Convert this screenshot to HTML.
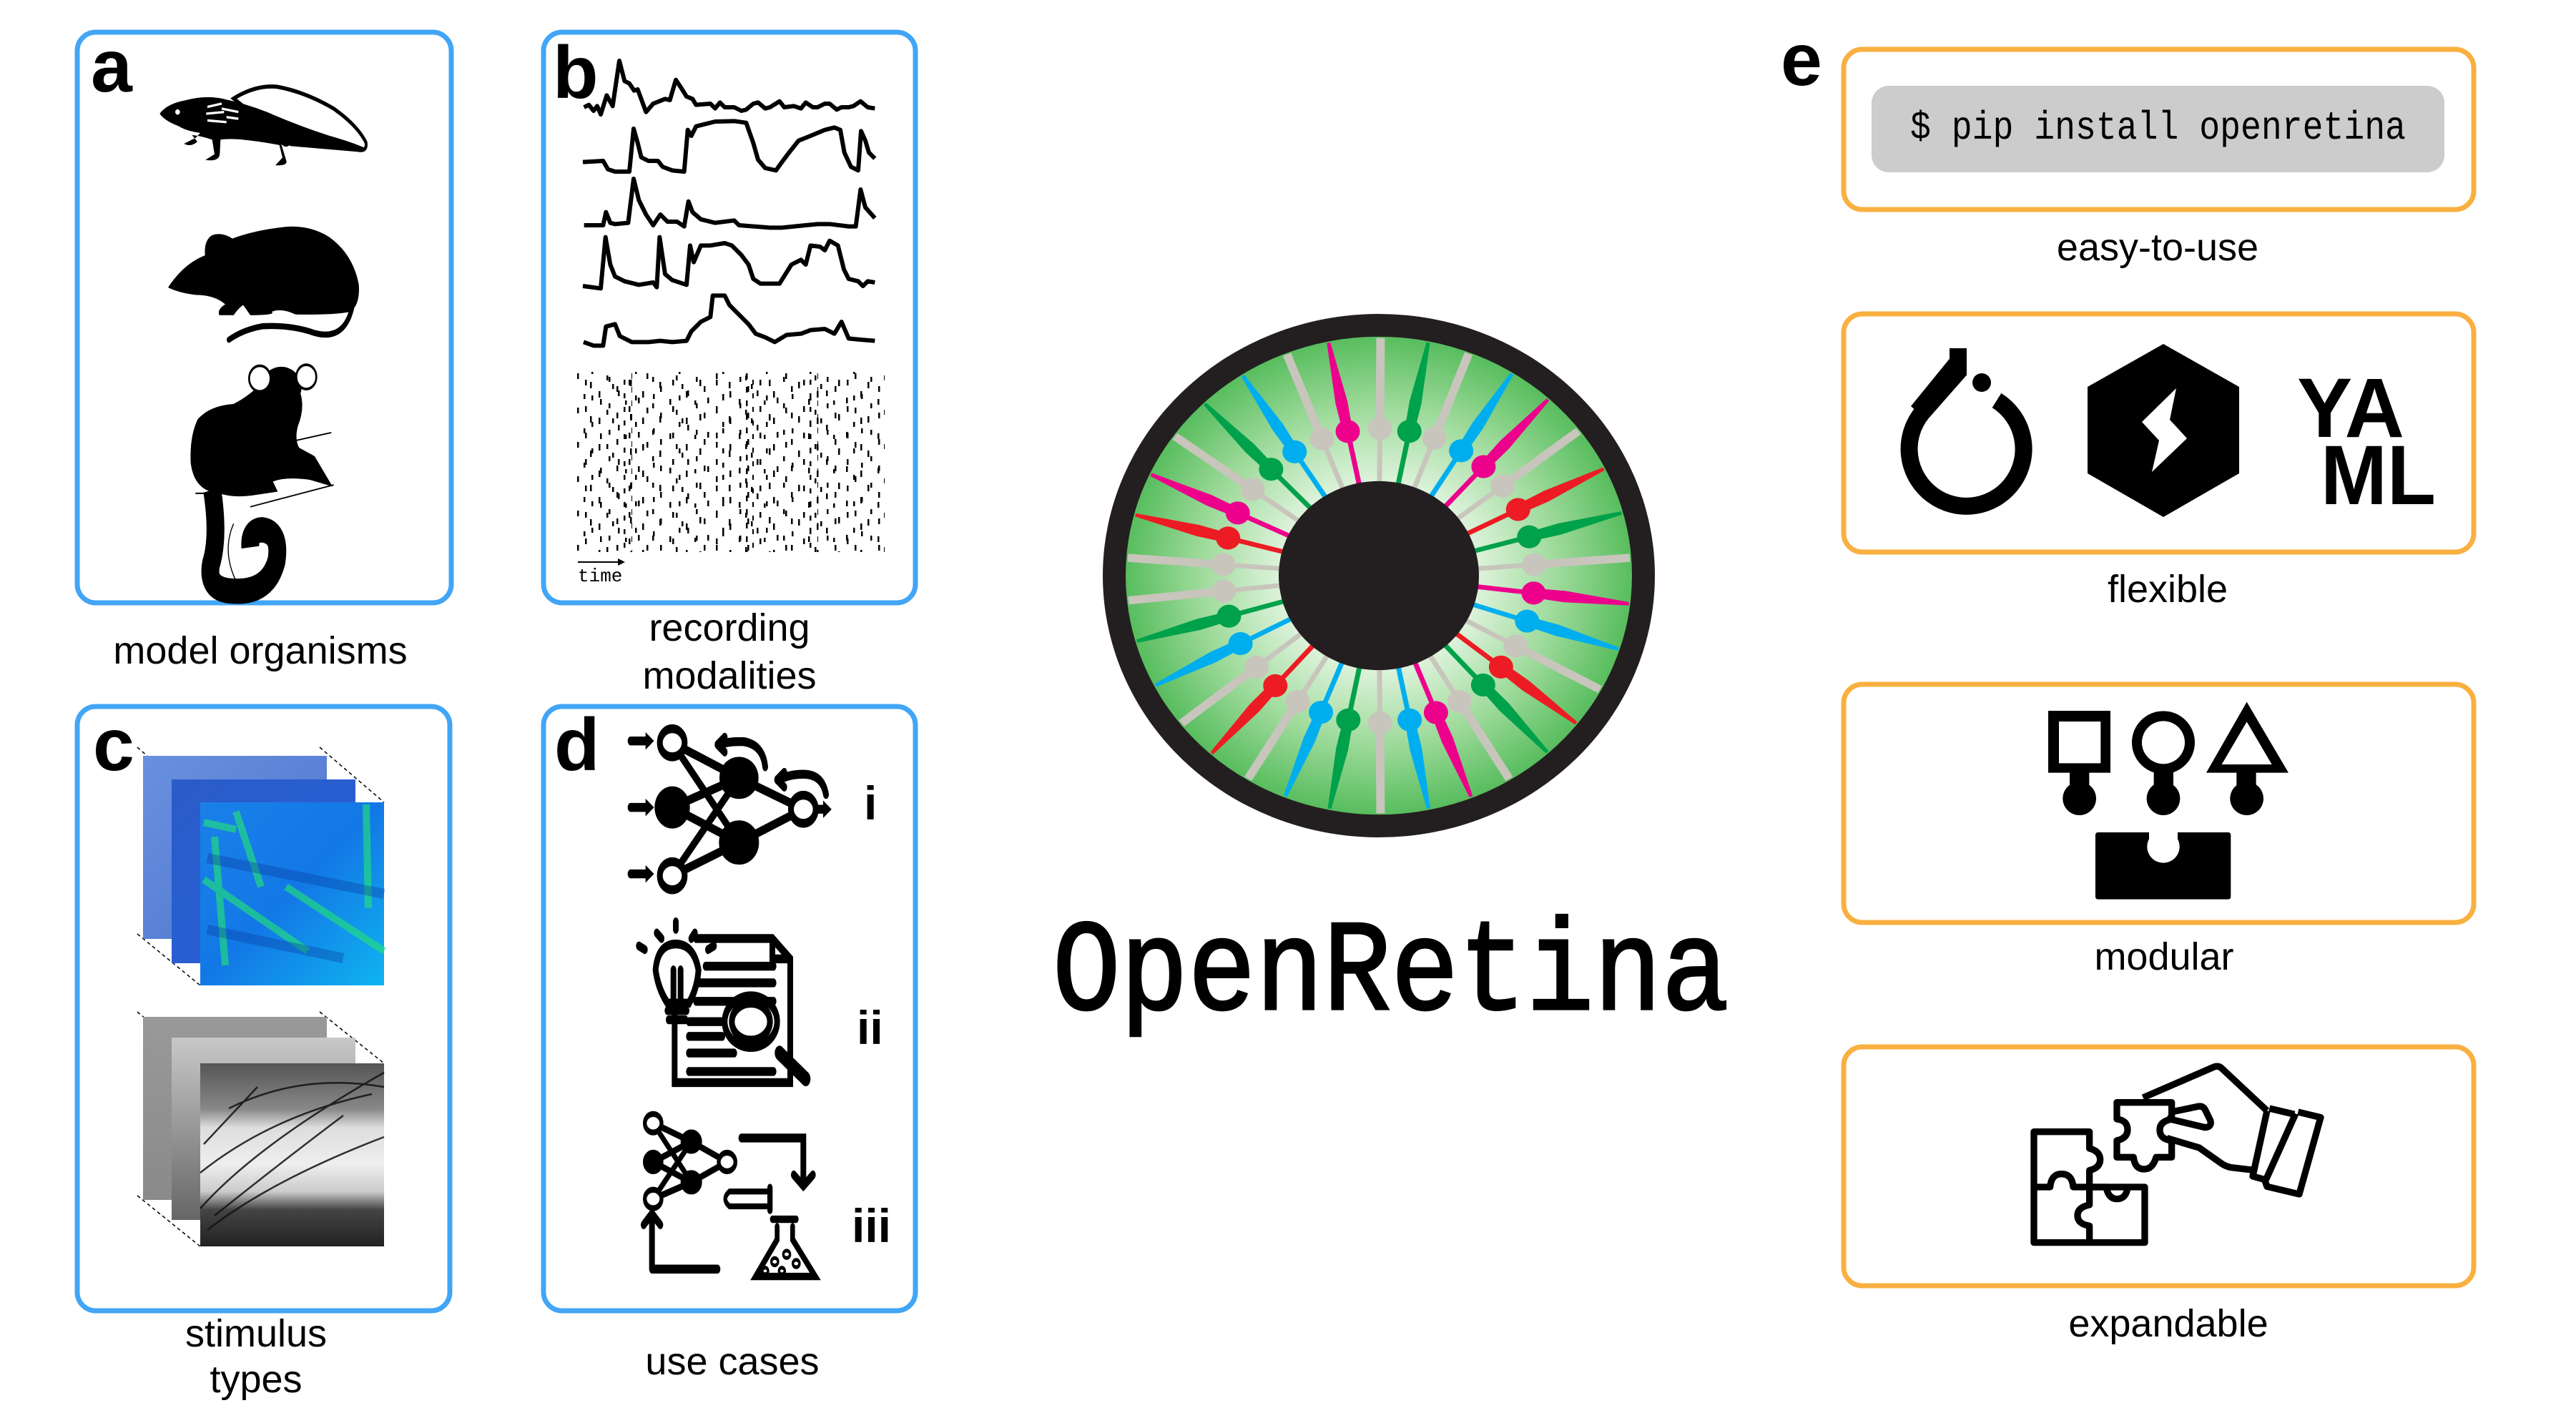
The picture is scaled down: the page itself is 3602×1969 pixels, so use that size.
<!DOCTYPE html>
<html><head><meta charset="utf-8">
<style>
html,body{margin:0;padding:0;background:#fff;}
svg{display:block;}
text{font-family:"Liberation Sans",sans-serif;}
.lbl{font-size:54px;fill:#000;text-anchor:middle;}
.big{font-weight:bold;font-size:104px;fill:#000;}
.mono{font-family:"Liberation Mono",monospace;}
</style></head>
<body>
<svg width="3602" height="1969" viewBox="0 0 3602 1969" xmlns="http://www.w3.org/2000/svg" xmlns:xlink="http://www.w3.org/1999/xlink">
<defs>
<radialGradient id="gg" cx="0" cy="0" r="354" gradientUnits="userSpaceOnUse">
<stop offset="0.35" stop-color="#e6f6e4"/><stop offset="0.7" stop-color="#9fdb9c"/><stop offset="1" stop-color="#58bd5e"/></radialGradient>
<linearGradient id="b1" x1="0" y1="0" x2="1" y2="1"><stop offset="0" stop-color="#6a90e0"/><stop offset="0.5" stop-color="#5a82d6"/><stop offset="1" stop-color="#4a78d8"/></linearGradient>
<linearGradient id="b2" x1="0" y1="0" x2="1" y2="1"><stop offset="0" stop-color="#2a5cc8"/><stop offset="1" stop-color="#2660d8"/></linearGradient>
<linearGradient id="b3" x1="0" y1="0" x2="1" y2="1"><stop offset="0" stop-color="#1a80e8"/><stop offset="0.5" stop-color="#1278e6"/><stop offset="1" stop-color="#10b4f0"/></linearGradient>
<linearGradient id="g1" x1="0" y1="0" x2="0" y2="1"><stop offset="0" stop-color="#999"/><stop offset="1" stop-color="#8a8a8a"/></linearGradient>
<linearGradient id="g2" x1="0" y1="0" x2="0" y2="1"><stop offset="0" stop-color="#c8c8c8"/><stop offset="1" stop-color="#666"/></linearGradient>
<linearGradient id="g3" x1="0" y1="0" x2="0" y2="1"><stop offset="0" stop-color="#555"/><stop offset="0.25" stop-color="#888"/><stop offset="0.35" stop-color="#ddd"/><stop offset="0.55" stop-color="#eee"/><stop offset="0.7" stop-color="#ccc"/><stop offset="0.8" stop-color="#444"/><stop offset="1" stop-color="#222"/></linearGradient>
<g id="rt">
<rect x="-3.5" y="-218" width="7" height="92"/>
<rect x="-7" y="-140" width="14" height="14"/>
<circle cx="0" cy="-218" r="17"/>
<polygon points="-7,-218 -8.5,-262 -2.5,-352 2.5,-352 8.5,-262 7,-218"/>
</g>
<g id="rs">
<rect x="-3.5" y="-218" width="7" height="92"/>
<rect x="-7" y="-140" width="14" height="14"/>
<circle cx="0" cy="-218" r="17"/>
<polygon points="-6,-218 -6,-352 6,-352 6,-218"/>
</g>
<pattern id="p1" x="804" y="520" width="97" height="48" patternUnits="userSpaceOnUse">
<g fill="#000"><rect x="3" y="2" width="2.5" height="8"/><rect x="21" y="14" width="2.5" height="9"/><rect x="44" y="5" width="2.5" height="7"/><rect x="60" y="26" width="2.5" height="8"/><rect x="77" y="11" width="2.5" height="9"/><rect x="88" y="36" width="2.5" height="8"/><rect x="12" y="31" width="2.5" height="7"/><rect x="35" y="38" width="2.5" height="8"/><rect x="52" y="17" width="2.5" height="7"/><rect x="70" y="40" width="2.5" height="6"/></g>
</pattern>
<pattern id="p2" x="810" y="525" width="61" height="37" patternUnits="userSpaceOnUse">
<g fill="#000"><rect x="8" y="6" width="2.5" height="8"/><rect x="27" y="22" width="2.5" height="9"/><rect x="41" y="2" width="2.5" height="7"/><rect x="52" y="15" width="2.5" height="8"/><rect x="17" y="28" width="2.5" height="7"/></g>
</pattern>
<pattern id="p3" x="0" y="520" width="20" height="19" patternUnits="userSpaceOnUse">
<g fill="#000"><rect x="3" y="2" width="2.5" height="8"/><rect x="12" y="11" width="2.5" height="7"/></g>
</pattern>
</defs>

<!-- panel boxes -->
<g fill="none" stroke="#42a5f5" stroke-width="7">
<rect x="108" y="45" width="523" height="798" rx="26"/>
<rect x="760" y="45" width="520" height="798" rx="26"/>
<rect x="108" y="988" width="521" height="845" rx="26"/>
<rect x="760" y="988" width="520" height="845" rx="26"/>
</g>
<g fill="none" stroke="#f9b040" stroke-width="7">
<rect x="2578" y="69" width="881" height="224" rx="26"/>
<rect x="2578" y="439" width="881" height="333" rx="26"/>
<rect x="2578" y="957" width="881" height="333" rx="26"/>
<rect x="2578" y="1464" width="881" height="334" rx="26"/>
</g>

<!-- letters -->
<text class="big" x="127" y="128">a</text>
<text class="big" x="773" y="137">b</text>
<text class="big" x="130" y="1077">c</text>
<text class="big" x="775" y="1077">d</text>
<text class="big" x="2490" y="119">e</text>

<!-- labels -->
<text class="lbl" x="364" y="928">model organisms</text>
<text class="lbl" x="1020" y="896">recording</text>
<text class="lbl" x="1020" y="963">modalities</text>
<text class="lbl" x="358" y="1883">stimulus</text>
<text class="lbl" x="358" y="1947">types</text>
<text class="lbl" x="1024" y="1922">use cases</text>
<text class="lbl" x="3017" y="364">easy-to-use</text>
<text class="lbl" x="3031" y="842">flexible</text>
<text class="lbl" x="3026" y="1356">modular</text>
<text class="lbl" x="3032" y="1869">expandable</text>

<!-- animals -->
<g transform="translate(200,100) scale(0.3333,0.4719)">
<path d="M380,80 Q470,40 560,45 Q680,60 800,110 Q900,160 935,210 Q942,238 900,232 L620,215 Z" fill="#fff" stroke="#000" stroke-width="12"/>
<path d="M70,125 Q100,95 180,85 Q260,70 330,80 Q430,95 520,120 Q650,160 780,190 Q880,210 935,228 Q850,235 620,215 Q600,230 580,215 L600,262 Q612,280 555,278 L585,255 L572,218 Q500,208 420,202 Q360,198 325,202 L322,245 Q318,268 262,262 L300,245 L290,202 Q250,192 205,188 L228,208 Q200,225 172,214 L222,196 L240,182 Q180,176 150,162 Q90,146 70,125Z" fill="#000"/>
<ellipse cx="145" cy="120" rx="10" ry="8" fill="#fff"/>
<path d="M270,105 L330,95 M265,125 L340,120 M270,145 L350,150 M330,110 L400,120 M350,135 L400,140" stroke="#fff" stroke-width="7" fill="none"/>
<path d="M105,640 Q170,570 260,545 Q255,500 290,485 Q330,475 375,495 Q470,470 600,460 Q700,455 780,490 Q880,540 905,630 Q912,690 870,712 Q800,722 640,720 Q580,700 540,712 Q560,722 450,722 L420,692 Q400,702 380,722 L320,722 Q310,705 345,690 Q300,662 220,662 Q150,656 105,640Z" fill="#000"/>
<path d="M360,795 Q420,765 500,755 Q620,750 720,775 Q850,800 880,690" stroke="#000" stroke-width="18" fill="none" stroke-linecap="round"/>
<path d="M600,1100 L790,1070 M450,1290 L800,1225 M380,1340 Q330,1420 390,1510 M220,1250 L260,1250" stroke="#000" stroke-width="4" fill="none"/>
<path d="M230,1030 Q280,990 380,985 Q450,960 500,920 Q560,880 640,920 Q690,980 650,1050 Q635,1090 655,1115 L720,1140 L795,1230 L700,1210 Q600,1200 545,1215 L565,1245 L470,1255 Q380,1265 320,1250 Q215,1245 200,1160 Q195,1080 230,1030Z" fill="#000"/>
<ellipse cx="580" cy="935" rx="85" ry="60" fill="#000"/>
<ellipse cx="490" cy="910" rx="45" ry="38" fill="#fff" stroke="#000" stroke-width="8"/>
<ellipse cx="685" cy="905" rx="42" ry="36" fill="#fff" stroke="#000" stroke-width="8"/>
<path d="M290,1240 Q320,1380 285,1460 Q265,1540 385,1540 Q525,1545 560,1450 Q578,1365 500,1358 Q445,1360 450,1410" stroke="#000" stroke-width="75" fill="none"/>
</g>

<!-- traces -->
<g transform="translate(760,50) scale(0.33333)" fill="none" stroke="#000" stroke-width="18" stroke-linejoin="round">
<polyline points="170,300 190,290 210,315 225,295 240,330 265,250 290,295 318,105 340,190 360,200 380,230 395,225 430,320 460,285 510,265 530,270 555,185 575,215 600,255 625,265 640,290 700,285 720,305 740,280 760,300 800,300 830,315 850,310 880,285 900,280 930,305 950,300 990,275 1010,300 1050,295 1080,305 1100,280 1130,300 1150,300 1180,285 1200,285 1230,310 1250,300 1280,300 1300,295 1330,275 1360,300 1390,305"/>
<polyline points="165,530 250,525 270,560 300,570 360,570 378,390 395,450 410,510 440,525 480,525 500,550 540,565 590,570 605,395 620,420 640,380 680,370 720,360 800,358 850,365 880,450 900,520 930,555 975,565 1000,530 1030,490 1070,440 1120,420 1180,395 1220,385 1245,395 1262,490 1290,550 1320,565 1332,400 1350,440 1365,490 1390,515"/>
<polyline points="170,795 250,795 262,740 280,785 300,790 355,785 378,600 400,690 430,750 460,795 490,750 520,780 560,780 590,800 608,695 625,740 660,770 720,785 800,775 820,795 950,805 1000,805 1100,795 1150,790 1200,790 1280,800 1310,800 1330,645 1350,720 1390,765"/>
<polyline points="165,1050 240,1060 260,845 280,960 300,1010 340,1030 400,1045 460,1035 475,1055 487,845 510,1000 540,1025 600,1045 615,880 630,950 660,880 700,880 760,870 790,880 830,920 860,960 880,1020 910,1040 950,1040 990,1040 1040,960 1080,940 1100,960 1120,880 1160,885 1180,900 1200,860 1235,880 1260,980 1280,1020 1320,1030 1340,1050 1360,1030 1390,1035"/>
<polyline points="168,1285 210,1300 250,1300 262,1220 300,1210 320,1260 340,1270 370,1285 440,1285 490,1280 540,1285 600,1280 620,1240 660,1200 700,1180 710,1090 760,1090 780,1130 820,1170 860,1210 890,1250 930,1265 970,1285 1020,1255 1080,1250 1120,1235 1180,1230 1220,1250 1250,1200 1280,1270 1330,1275 1390,1280"/>
</g>
<rect x="804" y="520" width="433" height="252" fill="url(#p1)"/>
<rect x="804" y="520" width="433" height="252" fill="url(#p2)"/>
<rect x="870" y="520" width="14" height="252" fill="url(#p3)"/>
<rect x="1040" y="520" width="14" height="252" fill="url(#p3)"/>
<rect x="1130" y="520" width="14" height="252" fill="url(#p3)"/>
<line x1="808" y1="786" x2="868" y2="786" stroke="#000" stroke-width="2"/>
<path d="M864,781 L874,786 L864,791Z" fill="#000"/>
<text class="mono" x="808" y="813" font-size="26">time</text>

<!-- stimulus stacks -->
<g stroke="#000" stroke-width="1.5" stroke-dasharray="5,4">
<line x1="192" y1="1045" x2="280" y2="1122"/><line x1="447" y1="1045" x2="537" y2="1122"/>
<line x1="192" y1="1306" x2="280" y2="1378"/>
<line x1="192" y1="1415" x2="280" y2="1487"/><line x1="447" y1="1415" x2="537" y2="1487"/>
<line x1="192" y1="1672" x2="280" y2="1743"/>
</g>
<rect x="200" y="1057" width="257" height="256" fill="url(#b1)"/>
<rect x="240" y="1090" width="257" height="257" fill="url(#b2)"/>
<rect x="280" y="1122" width="257" height="256" fill="url(#b3)"/>
<g stroke="#22e07a" stroke-width="10" opacity="0.65" fill="none">
<path d="M285,1230 L430,1330"/><path d="M400,1240 L537,1330"/><path d="M300,1170 L315,1350"/><path d="M512,1125 L515,1270"/><path d="M330,1135 L365,1240"/><path d="M285,1150 L330,1160"/>
</g>
<g stroke="#0a3a9a" stroke-width="14" opacity="0.35" fill="none"><path d="M290,1200 L537,1250"/><path d="M290,1300 L480,1340"/></g>
<rect x="200" y="1422" width="257" height="256" fill="url(#g1)"/>
<rect x="240" y="1451" width="257" height="255" fill="url(#g2)"/>
<rect x="280" y="1487" width="257" height="256" fill="url(#g3)"/>
<g stroke="#111" stroke-width="2.5" fill="none" opacity="0.85">
<path d="M280,1690 Q360,1600 537,1500"/><path d="M280,1640 Q380,1560 520,1530"/><path d="M300,1700 Q400,1620 480,1560"/><path d="M285,1600 L360,1520"/><path d="M290,1720 Q380,1650 537,1590"/><path d="M320,1550 Q420,1500 537,1520"/>
</g>

<!-- use case icons -->
<g transform="translate(860,1000) scale(0.3333,0.5165)" stroke="#000" stroke-width="24" fill="none" stroke-linecap="round">
<path d="M240,75 L520,170 M240,75 L520,345 M240,250 L520,170 M240,250 L520,345 M240,435 L520,170 M240,435 L520,345 M520,170 L790,255 M520,345 L790,255"/>
<ellipse cx="240" cy="75" rx="52" ry="38" fill="#fff"/>
<ellipse cx="240" cy="250" rx="62" ry="45" fill="#000"/>
<ellipse cx="520" cy="170" rx="70" ry="45" fill="#000"/>
<ellipse cx="520" cy="345" rx="72" ry="48" fill="#000"/>
<ellipse cx="790" cy="255" rx="52" ry="38" fill="#fff"/>
<ellipse cx="240" cy="435" rx="52" ry="38" fill="#fff"/>
<path d="M65,70 L130,70 M65,250 L130,250 M65,430 L130,430 M845,255 L880,255"/>
<path d="M130,50 L160,70 L130,90Z M130,230 L160,250 L130,270Z M130,410 L160,430 L130,450Z M875,235 L905,255 L875,275Z" fill="#000" stroke-width="4"/>
<path d="M630,140 Q620,80 540,72 Q480,70 440,80"/><path d="M430,80 L460,60 M430,80 L460,100" />
<path d="M885,215 Q870,160 790,160 Q730,160 690,175"/><path d="M680,175 L710,155 M680,175 L710,195"/>
<path d="M250,630 L250,995 L735,995 L735,660 L660,605 L340,605 M660,605 L660,660 L735,660"/>
<path d="M380,680 L665,680 M310,725 L665,725 M340,775 L665,775 M310,830 L450,830 M310,870 L450,870 M310,915 L500,915 M310,965 L665,965"/>
<ellipse cx="570" cy="830" rx="110" ry="70" fill="#fff"/>
<ellipse cx="570" cy="830" rx="80" ry="50"/>
<path d="M690,915 L800,985" stroke-width="40"/>
<path d="M255,620 Q330,620 350,690 Q345,740 310,780 L220,780 Q180,740 170,690 Q180,620 255,620Z" fill="#fff"/>
<path d="M220,800 L300,800 M225,825 L295,825 M245,690 L245,780 M275,690 L275,780"/>
<path d="M255,560 L255,580 M175,590 L195,605 M335,590 L320,605 M100,625 L125,635 M415,625 L390,635"/>
<path d="M160,1105 L320,1155 M160,1105 L320,1265 M160,1210 L320,1155 M160,1210 L320,1265 M160,1310 L320,1155 M160,1310 L320,1265 M320,1155 L470,1210 M320,1265 L470,1210" stroke-width="18"/>
<ellipse cx="160" cy="1105" rx="35" ry="25" fill="#fff" stroke-width="16"/>
<ellipse cx="160" cy="1210" rx="38" ry="28" fill="#000" stroke-width="10"/>
<ellipse cx="320" cy="1155" rx="40" ry="28" fill="#000" stroke-width="10"/>
<ellipse cx="320" cy="1265" rx="40" ry="28" fill="#000" stroke-width="10"/>
<ellipse cx="470" cy="1210" rx="35" ry="25" fill="#fff" stroke-width="16"/>
<ellipse cx="160" cy="1310" rx="35" ry="25" fill="#fff" stroke-width="16"/>
<path d="M530,1145 L790,1145 L790,1270 M750,1245 L790,1275 L830,1245"/>
<path d="M155,1500 L430,1500 M155,1500 L155,1350 M120,1380 L155,1350 L190,1380"/>
<path d="M640,1290 L480,1290 Q445,1310 480,1330 L640,1330" stroke-width="16"/>
<path d="M650,1280 L650,1340" stroke-width="22"/>
<path d="M660,1365 L760,1365 M680,1385 L680,1420 L590,1520 L840,1520 L745,1420 L745,1385" stroke-width="20"/>
<ellipse cx="670" cy="1480" rx="14" ry="10" stroke-width="10"/><ellipse cx="720" cy="1460" rx="14" ry="10" stroke-width="10"/><ellipse cx="760" cy="1485" rx="14" ry="10" stroke-width="10"/><ellipse cx="630" cy="1505" rx="12" ry="9" stroke-width="10"/><ellipse cx="700" cy="1505" rx="12" ry="9" stroke-width="10"/>
</g>
<g font-weight="bold" font-size="66" fill="#000"><text x="1208" y="1146">i</text><text x="1198" y="1460">ii</text><text x="1191" y="1737">iii</text></g>

<!-- eye -->
<ellipse cx="1928" cy="805" rx="386" ry="366" fill="#231f20"/>
<g transform="translate(1928,805) scale(1,0.944)">
<circle cx="0" cy="0" r="354" fill="url(#gg)"/>
<use xlink:href="#rs" fill="#c8c5bc" transform="rotate(0.4)"/>
<use xlink:href="#rt" fill="#00a14b" transform="rotate(11.3)"/>
<use xlink:href="#rs" fill="#c8c5bc" transform="rotate(20.9)"/>
<use xlink:href="#rt" fill="#00aeef" transform="rotate(31.9)"/>
<use xlink:href="#rt" fill="#ec008c" transform="rotate(42.2)"/>
<use xlink:href="#rs" fill="#c8c5bc" transform="rotate(52.5)"/>
<use xlink:href="#rt" fill="#ed1c24" transform="rotate(63.3)"/>
<use xlink:href="#rt" fill="#00a14b" transform="rotate(74.7)"/>
<use xlink:href="#rs" fill="#c8c5bc" transform="rotate(85.7)"/>
<use xlink:href="#rt" fill="#ec008c" transform="rotate(96.8)"/>
<use xlink:href="#rt" fill="#00aeef" transform="rotate(108)"/>
<use xlink:href="#rs" fill="#c8c5bc" transform="rotate(118.6)"/>
<use xlink:href="#rt" fill="#ed1c24" transform="rotate(128.4)"/>
<use xlink:href="#rt" fill="#00a14b" transform="rotate(138)"/>
<use xlink:href="#rs" fill="#c8c5bc" transform="rotate(148.8)"/>
<use xlink:href="#rt" fill="#ec008c" transform="rotate(158.5)"/>
<use xlink:href="#rt" fill="#00aeef" transform="rotate(168.6)"/>
<use xlink:href="#rs" fill="#c8c5bc" transform="rotate(179.6)"/>
<use xlink:href="#rt" fill="#00a14b" transform="rotate(191.3)"/>
<use xlink:href="#rt" fill="#00aeef" transform="rotate(201.8)"/>
<use xlink:href="#rs" fill="#c8c5bc" transform="rotate(211.3)"/>
<use xlink:href="#rt" fill="#ed1c24" transform="rotate(221.6)"/>
<use xlink:href="#rs" fill="#c8c5bc" transform="rotate(231.6)"/>
<use xlink:href="#rt" fill="#00aeef" transform="rotate(242.5)"/>
<use xlink:href="#rt" fill="#00a14b" transform="rotate(254)"/>
<use xlink:href="#rs" fill="#c8c5bc" transform="rotate(264)"/>
<use xlink:href="#rs" fill="#c8c5bc" transform="rotate(274.3)"/>
<use xlink:href="#rt" fill="#ed1c24" transform="rotate(284.8)"/>
<use xlink:href="#rt" fill="#ec008c" transform="rotate(295.2)"/>
<use xlink:href="#rs" fill="#c8c5bc" transform="rotate(305.9)"/>
<use xlink:href="#rt" fill="#00a14b" transform="rotate(316.3)"/>
<use xlink:href="#rt" fill="#00aeef" transform="rotate(327.3)"/>
<use xlink:href="#rs" fill="#c8c5bc" transform="rotate(338.6)"/>
<use xlink:href="#rt" fill="#ec008c" transform="rotate(348.5)"/>
<circle cx="0" cy="0" r="140" fill="#231f20"/>
</g>

<text class="mono" transform="translate(1472,1411) scale(1,1.27)" font-size="143" textLength="946" lengthAdjust="spacingAndGlyphs" fill="#000" stroke="#000" stroke-width="2.5">OpenRetina</text>

<!-- pip -->
<rect x="2617" y="120" width="801" height="121" rx="24" fill="#cccccc"/>
<text class="mono" transform="translate(2671,194) scale(1,1.12)" font-size="50" textLength="693" lengthAdjust="spacingAndGlyphs" fill="#000">$ pip install openretina</text>

<!-- flexible icons -->
<path d="M2738,487 L2738,520 L2687,578 A80 80 0 1 0 2792,560" fill="none" stroke="#000" stroke-width="24"/>
<path d="M2738,487 L2738,520 L2685,580 L2672,568Z" fill="#000"/>
<circle cx="2771" cy="535" r="13" fill="#000"/>
<polygon points="3025,481 3131,541 3131,662 3025,723 2919,662 2919,541" fill="#000"/>
<polygon points="3043,543 3034,587 3058,613 3009,660 3019,616 2995,590" fill="#fff"/>
<text x="3212" y="611" font-weight="bold" font-size="118" textLength="150" lengthAdjust="spacingAndGlyphs">YA</text>
<text x="3245" y="705" font-weight="bold" font-size="118" textLength="161" lengthAdjust="spacingAndGlyphs">ML</text>

<!-- modular -->
<g transform="translate(2840,960) scale(0.3333)" fill="#000">
<path fill-rule="evenodd" d="M72,102 H333 V362 H72Z M117,147 V322 H292 V147Z"/>
<rect x="162" y="355" width="82" height="60"/><circle cx="203" cy="470" r="70"/>
<path fill-rule="evenodd" d="M423,235 a132,132 0 1,0 264,0 a132,132 0 1,0 -264,0Z M465,235 a90,90 0 1,0 180,0 a90,90 0 1,0 -180,0Z"/>
<rect x="515" y="350" width="82" height="65"/><circle cx="555" cy="470" r="70"/>
<path fill-rule="evenodd" d="M905,65 L1080,362 L735,362Z M905,148 L800,327 L1010,327Z"/>
<rect x="862" y="355" width="82" height="60"/><circle cx="905" cy="470" r="70"/>
<rect x="270" y="612" width="568" height="281" rx="10"/>
<circle cx="555" cy="672" r="68" fill="#fff"/><rect x="495" y="600" width="120" height="60" fill="#fff"/>
</g>

<!-- expandable -->
<g transform="translate(2820,1470) scale(0.3333)" fill="none" stroke="#000" stroke-width="28" stroke-linejoin="round">
<path d="M72,338 H305 V408 Q350,420 350,455 Q350,490 305,500 V570 H537 V803 H72Z"/>
<path d="M72,570 H140 Q145,515 188,515 Q232,515 237,570 H305 M305,570 V645 Q255,655 255,690 Q255,725 305,733 V803 M305,570 H375 Q385,620 420,620 Q460,620 465,570"/>
<path d="M420,215 H650 V285 Q600,295 600,330 Q600,370 650,375 V445 H585 Q570,495 535,495 Q495,495 490,445 H420 V375 Q465,365 465,330 Q465,290 420,285Z"/>
<path d="M530,195 L830,65 Q848,60 860,72 L1050,250 M650,255 L760,232 Q780,228 790,245 L812,290 Q820,318 790,320 L630,282 M630,365 L765,405 L860,472 Q880,485 900,488 L985,498 M1050,250 L990,525 L1045,540 L1170,262 M1060,240 L1165,265 M1180,255 L1275,278 L1185,600 L1050,568 L1040,540"/>
</g>
</svg>
</body></html>
